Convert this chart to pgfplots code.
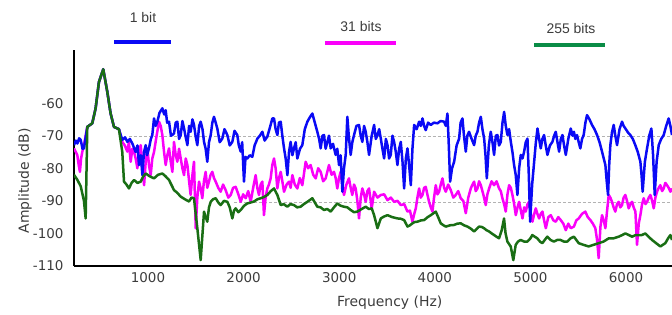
\documentclass[border=0pt]{standalone}
\usepackage{pgfplots}
\pgfplotsset{compat=1.18}
\usepackage{fontspec}
\setmainfont{Liberation Sans}
\newfontfamily\dejavu{DejaVu Sans}
\definecolor{txt}{RGB}{60,60,60}
\definecolor{cblue}{RGB}{10,10,245}
\definecolor{cmag}{RGB}{250,0,250}
\definecolor{cgreen}{RGB}{25,110,20}
\definecolor{lgreen}{RGB}{10,140,70}
\begin{document}
\begin{tikzpicture}[x=1bp,y=1bp]
\path[use as bounding box] (0,0) rectangle (672,314);
\begin{axis}[
  at={(74bp,48bp)}, anchor=south west,
  scale only axis, width=598bp, height=216bp,
  xmin=226, xmax=6481, ymin=-110, ymax=-43.7,
  axis x line*=bottom, axis y line*=left,
  axis line style={black, line width=1.3bp},
  xtick={1000,2000,3000,4000,5000,6000},
  ytick={-110,-100,-90,-80,-70,-60},
  major tick length=0pt,
  /pgf/number format/1000 sep={},
  /pgf/number format/assume math mode=true,
  tick label style={font=\dejavu\fontsize{13.5}{14}\selectfont, text=txt},
  yticklabel style={xshift=-7bp},
  xticklabel style={yshift=-3bp},
  xlabel={Frequency (Hz)}, ylabel={Amplitude (dB)},
  label style={font=\dejavu\fontsize{14}{15}\selectfont, text=txt},
  xlabel style={at={(axis description cs:0.528,-0.171)}, anchor=center},
  ylabel style={at={(axis description cs:-0.082,0.394)}, anchor=center},
  clip=true,
]
% faint dashed mean lines
\addplot[gray!60, densely dashed, line width=0.6bp] coordinates {(800,-70.2) (6481,-70.2)};
\addplot[gray!60, densely dashed, line width=0.6bp] coordinates {(1900,-90.3) (6481,-90.3)};
% 31 bits
\addplot[cmag, line width=2.5bp, line join=round] coordinates {
(226,-73.9) (245,-75) (261,-76) (275,-79) (288,-81.1) (300,-77) (313,-74.9) (330,-72.9) (365,-67.3) (417,-66.2) (452,-61.6) (487,-53.5) (532,-49.6) (574,-56.5) (609,-63.2) (644,-67.3) (696,-68)
(731,-71.9) (757,-73) (784,-74.9) (800,-72) (819,-78) (836,-74) (854,-75) (871,-77) (889,-80) (906,-75) (924,-72.9) (941,-79) (959,-85.2) (976,-78) (994,-73.9) (1010,-79) (1028,-82.1) (1045,-77) (1063,-75) (1090,-70) (1115,-65.7) (1133,-67) (1150,-69.8) (1168,-75) (1185,-79) (1202,-76) (1220,-73.9) (1238,-78) (1255,-81.1)
(1272,-71.9) (1290,-76) (1307,-78) (1325,-74) (1342,-77) (1360,-80) (1377,-82.1) (1395,-77) (1412,-79) (1430,-84) (1446,-88.2) (1465,-82) (1481,-78) (1490,-88) (1499,-98.4) (1516,-89) (1534,-84.1) (1550,-86) (1568,-89.2) (1585,-84) (1603,-81.1) (1620,-86) (1638,-84.1) (1655,-82) (1673,-81.1) (1690,-83) (1708,-84.1) (1735,-86) (1760,-87.2) (1785,-85) (1812,-86.7) (1840,-89) (1865,-88.2) (1890,-86) (1917,-85.7) (1945,-88) (1970,-90.3) (1995,-88) (2022,-89.2) (2048,-87) (2074,-90.3) (2100,-86) (2126,-82.1) (2143,-86) (2161,-88.2) (2178,-85) (2196,-84.1) (2213,-94.4) (2230,-89) (2248,-86.2) (2265,-85) (2283,-83.1) (2300,-79)
(2318,-77) (2335,-80) (2353,-86.2) (2370,-83) (2388,-81.1) (2405,-84) (2423,-87.2) (2450,-85) (2475,-84.1) (2492,-86) (2510,-82.1) (2535,-85) (2562,-86.2) (2588,-83) (2614,-85.2) (2630,-82) (2649,-78) (2675,-80) (2701,-79) (2728,-82) (2754,-83.1) (2780,-80) (2806,-81.1) (2832,-84) (2858,-83.1) (2876,-81) (2893,-79) (2920,-82) (2945,-81.1) (2963,-83) (2980,-86.2) (2998,-83) (3015,-81.1) (3033,-85) (3050,-88.2) (3075,-85) (3102,-83.1) (3120,-86) (3137,-88.2) (3155,-85) (3172,-86.2) (3190,-90) (3207,-95.4) (3225,-89) (3242,-86.2) (3260,-88) (3277,-90.3) (3295,-87) (3312,-86.2) (3340,-92.3)
(3365,-87.2) (3400,-89) (3435,-88.2) (3470,-88) (3505,-89.8) (3540,-89) (3574,-90.3) (3610,-90) (3644,-91.3) (3680,-91) (3714,-93.3) (3740,-93) (3766,-96.4) (3785,-94) (3801,-92.3) (3818,-89) (3836,-86.2) (3853,-89) (3871,-88.2) (3888,-86) (3905,-85.7) (3922,-88) (3940,-90.3) (3958,-92) (3975,-93.3) (3992,-89) (4010,-85.2) (4028,-88) (4045,-87.2) (4062,-85) (4080,-83.1) (4097,-86) (4115,-87.2) (4140,-85) (4167,-86.7) (4193,-89) (4219,-88.2) (4245,-87) (4271,-89.2) (4298,-90) (4324,-93.8) (4350,-89) (4376,-86.2) (4394,-85)
(4411,-84.1) (4428,-87) (4446,-86.2) (4463,-84) (4481,-85.2) (4507,-88) (4533,-91.3) (4550,-88) (4568,-86.2) (4594,-84) (4620,-85.2) (4646,-84) (4672,-86.2) (4690,-87) (4707,-89.2) (4725,-91) (4742,-93.3) (4760,-88) (4777,-85.2) (4795,-86) (4812,-88.2) (4830,-91) (4847,-94.4) (4865,-92) (4882,-90.3) (4900,-93) (4917,-95.4) (4935,-92) (4951,-93.3) (4970,-91) (4986,-90.3) (5004,-94) (5021,-96.4) (5040,-94) (5056,-92.3) (5073,-94) (5091,-95.4) (5108,-94) (5126,-93.3) (5143,-96) (5161,-98.4) (5187,-95) (5213,-94.4) (5240,-96) (5265,-96.4) (5291,-95) (5317,-95.9) (5344,-97) (5370,-99) (5396,-97) (5422,-98.4)
(5455,-97.9) (5480,-96) (5505,-95.4) (5540,-94) (5574,-93.3) (5600,-95) (5627,-95.9) (5653,-97) (5679,-98.4) (5697,-102) (5714,-107.6) (5732,-98) (5749,-94.4) (5767,-96) (5784,-98.4) (5802,-93) (5819,-88.2) (5836,-89) (5853,-90.3) (5870,-92) (5888,-93.3) (5906,-91) (5923,-90.3) (5940,-92) (5958,-91.3) (5975,-89) (5993,-88.2) (6010,-90) (6028,-92.3) (6045,-91) (6063,-90.3) (6080,-92) (6098,-93.3) (6115,-103.5) (6133,-97) (6150,-94.4) (6168,-91) (6185,-89.2) (6203,-91) (6220,-90.3) (6238,-89) (6255,-88.2) (6273,-90) (6290,-92.3) (6307,-89) (6324,-87.2) (6342,-86) (6359,-85.2) (6377,-87) (6394,-86.2) (6411,-84.5) (6429,-85.2) (6446,-86) (6464,-87.2) (6481,-86.2)
};
% 1 bit
\addplot[cblue, line width=2.5bp, line join=round] coordinates {
(226,-72.9) (245,-71.5) (261,-72.4) (280,-70.8) (296,-71.3) (315,-74) (330,-73.9) (365,-67.3) (417,-66.2) (452,-61.6) (487,-53.5) (532,-49.6) (574,-56.5) (609,-63.2) (644,-67.3) (696,-68)
(731,-71.3) (760,-70.5) (784,-71.9) (810,-71) (836,-72.4) (871,-75) (890,-73) (906,-79) (925,-76) (941,-82.1) (958,-75) (976,-72.9) (990,-76) (1010,-73.9) (1030,-71) (1045,-69.8) (1063,-64.7) (1080,-67) (1098,-65.7) (1120,-63) (1150,-61.6) (1170,-63.5) (1185,-62.2) (1200,-66) (1220,-65.7) (1240,-70) (1255,-69.8)
(1272,-69.3) (1290,-66) (1307,-65.7) (1325,-71) (1342,-69.8) (1360,-65.5) (1377,-67.8) (1395,-70.5) (1412,-72.9) (1430,-67) (1446,-68.8) (1465,-65) (1481,-66.7) (1500,-70.5) (1516,-72.9) (1535,-67) (1551,-65.7) (1570,-68) (1586,-71.9) (1603,-74) (1620,-78) (1638,-72) (1656,-69.8) (1673,-66) (1690,-64.2) (1708,-66) (1725,-67.8) (1750,-72) (1777,-70.9) (1800,-68) (1830,-69.8) (1855,-73) (1882,-71.9) (1905,-68.5) (1934,-69.8) (1950,-73) (1970,-74.9) (1985,-72) (2004,-84.1) (2020,-76.5) (2039,-77) (2065,-76) (2091,-76.5) (2115,-73) (2144,-70.9) (2170,-70) (2196,-68.8) (2220,-71.5) (2248,-70.3) (2275,-67.5) (2301,-64.7)
(2318,-64.7) (2335,-68) (2353,-69.8) (2370,-66) (2388,-65.7) (2405,-70) (2423,-73.9) (2440,-77) (2458,-82.1) (2475,-75) (2492,-71.9) (2510,-76) (2527,-73.9) (2545,-72) (2562,-77) (2590,-74) (2614,-72.9) (2640,-68) (2667,-65.7) (2690,-64.5) (2719,-63.2) (2745,-66) (2771,-68.8) (2790,-71) (2806,-73.9) (2825,-70) (2841,-69.8) (2858,-74) (2876,-71.9) (2893,-70) (2911,-73.9) (2935,-72.5) (2963,-75.9) (2980,-74) (2998,-79) (3015,-76) (3033,-87.2) (3050,-80) (3068,-75.9) (3085,-64.2) (3100,-70) (3120,-75.9) (3137,-72) (3155,-69.8) (3180,-67) (3207,-66.7) (3225,-70) (3242,-71.9) (3260,-67) (3277,-68.8) (3295,-72) (3312,-75.9) (3340,-70)
(3365,-66.7) (3383,-71) (3400,-69.8) (3418,-68) (3435,-70.9) (3452,-74) (3470,-77) (3488,-71) (3505,-72.9) (3522,-77) (3539,-75.9) (3557,-70) (3574,-71.9) (3592,-75) (3609,-79) (3627,-74) (3644,-71.9) (3662,-78) (3679,-86.2) (3697,-77) (3714,-73.9) (3731,-79) (3749,-85.2) (3766,-74) (3784,-66.7) (3810,-68) (3836,-65.7) (3853,-67) (3871,-64.7) (3888,-67) (3905,-68.3) (3930,-66) (3958,-66.7) (3990,-66) (4028,-66.2) (4060,-65.5) (4097,-65.7) (4115,-67) (4132,-63.2) (4145,-72) (4160,-84.1) (4180,-80) (4202,-78) (4228,-73) (4254,-70.9) (4270,-66) (4289,-64.7) (4305,-70) (4324,-74.9) (4340,-70) (4358,-68.8) (4385,-71)
(4411,-72.9) (4428,-70) (4446,-68.8) (4463,-66) (4481,-64.2) (4498,-68) (4516,-70.9) (4530,-76) (4544,-83.1) (4565,-73) (4585,-68.8) (4603,-72) (4620,-75.9) (4638,-70) (4655,-69.8) (4672,-73) (4690,-71.9) (4708,-66) (4725,-62.7) (4742,-67) (4760,-69.8) (4777,-68) (4795,-71.9) (4812,-75) (4829,-79) (4846,-82) (4864,-88.2) (4882,-80) (4899,-75.9) (4917,-77) (4934,-74.9) (4951,-72) (4969,-70.9) (4983,-82) (4997,-96.4) (5018,-85) (5039,-78) (5057,-72) (5074,-67.8) (5091,-71) (5108,-73.9) (5125,-71) (5143,-69.8) (5160,-73) (5178,-75.9) (5204,-73) (5230,-71.9) (5248,-70) (5265,-68.8) (5283,-72) (5300,-74.9) (5318,-71) (5335,-69.8) (5352,-73) (5370,-75.9) (5396,-71) (5422,-67.8) (5440,-70)
(5455,-68.8) (5470,-71) (5487,-69.8) (5505,-72) (5522,-73.9) (5540,-71) (5557,-69.8) (5575,-66) (5592,-63.7) (5618,-65) (5644,-66.7) (5670,-68) (5697,-69.8) (5723,-72) (5749,-74.9) (5767,-77) (5784,-79) (5798,-84) (5812,-88.2) (5824,-79) (5836,-72.9) (5853,-69) (5871,-66.7) (5888,-70) (5906,-72.9) (5932,-68) (5958,-65.7) (5975,-67) (5993,-67.8) (6020,-69) (6045,-69.8) (6071,-71) (6097,-72.9) (6123,-75) (6150,-78) (6162,-82) (6174,-87.2) (6197,-78) (6220,-73.9) (6243,-70) (6265,-67.8) (6283,-76) (6300,-88.2) (6320,-78) (6342,-72.9) (6368,-71) (6394,-69.8) (6420,-67) (6446,-64.7) (6464,-67) (6481,-69.8)
};
% 255 bits
\addplot[cgreen, line width=2.5bp, line join=round] coordinates {
(226,-82) (260,-83.5) (296,-85.5) (330,-90) (348,-95.4) (365,-67.3) (417,-66.2) (452,-61.6) (487,-53.5) (532,-49.6) (574,-56.5) (609,-63.2) (644,-67.3) (696,-68) (731,-75) (749,-84.1) (775,-85) (801,-86.2) (828,-84.5) (854,-83.6) (890,-84.5) (924,-84.1) (950,-82.5) (976,-81.6) (1020,-82.5) (1063,-83.1) (1105,-82) (1150,-81.6) (1185,-82.5) (1220,-83.6)
(1272,-86.7) (1305,-87.5) (1342,-88.7) (1385,-89.5) (1429,-90.2) (1455,-89) (1481,-89.2) (1516,-98.4) (1551,-108.2) (1586,-93.3) (1603,-95) (1620,-96.4) (1638,-92) (1656,-90.3) (1680,-89.5) (1708,-89.2) (1735,-90.5) (1760,-91.3) (1795,-90) (1830,-90.3) (1855,-92) (1882,-95.4) (1900,-93) (1917,-92.3) (1945,-93.5) (1970,-92.8) (2005,-91.5) (2039,-90.8) (2075,-90.5) (2109,-90.2) (2145,-89.5) (2179,-89.2) (2215,-88.8) (2248,-88.2) (2285,-87) (2318,-86.2)
(2353,-88.2) (2388,-91.3) (2420,-91) (2457,-91.8) (2490,-91) (2527,-91.3) (2560,-92) (2597,-91.8) (2630,-91) (2667,-90.3) (2719,-89.2) (2745,-90.5) (2771,-91.8) (2805,-92) (2841,-92.8) (2875,-92.5) (2911,-93.3) (2945,-92) (2980,-90.8) (3015,-91.5) (3050,-91.8) (3085,-92) (3120,-92.8) (3155,-93.5) (3190,-93.3) (3235,-92.5) (3277,-91.8) (3310,-92.5) (3340,-92.3)
(3365,-94.4) (3400,-98.4) (3435,-95.4) (3470,-94.8) (3505,-94.4) (3555,-95) (3609,-95.4) (3645,-95.5) (3679,-95.9) (3714,-97.9) (3740,-97.5) (3766,-96.9) (3790,-96.5) (3818,-96.4) (3855,-96) (3888,-95.9) (3925,-95) (3958,-94.4) (4010,-93.3) (4035,-95) (4062,-96.9) (4090,-97.5) (4115,-97.9) (4160,-97.5) (4202,-97.4) (4235,-97) (4271,-96.9) (4305,-97.5) (4341,-97.9) (4375,-98.5) (4411,-99.4)
(4463,-97.9) (4490,-98) (4515,-98.4) (4540,-99) (4567,-99.4) (4595,-100) (4620,-100.5) (4645,-101) (4672,-101.5) (4700,-99) (4724,-95.4) (4740,-100) (4759,-102.5) (4794,-104) (4821,-108.2) (4846,-103.5) (4870,-102.5) (4898,-102) (4935,-102.5) (4968,-102.5) (5000,-101.5) (5020,-100.5) (5045,-101) (5072,-101.5) (5100,-102.5) (5124,-103) (5150,-102) (5176,-101) (5210,-102) (5246,-102.5) (5280,-102) (5315,-102) (5350,-102.5) (5385,-102.5) (5420,-101.5) (5455,-101)
(5480,-102) (5505,-103) (5555,-103.5) (5609,-104) (5660,-103.5) (5714,-103) (5765,-102.5) (5819,-101.5) (5870,-101.5) (5923,-101) (5960,-100.5) (5993,-100) (6030,-100.5) (6063,-101) (6100,-100.5) (6132,-100.5) (6165,-100.5) (6202,-100) (6235,-101) (6272,-102) (6315,-103) (6359,-104) (6385,-103.5) (6411,-103) (6440,-101.5) (6464,-100.5) (6481,-102)
};
\end{axis}
% legend
\draw[cblue, line width=4bp] (114,272) -- (171,272);
\draw[cmag, line width=4bp] (325,271) -- (396,271);
\draw[lgreen, line width=4bp] (534,269) -- (605,269);
\node[text=txt, font=\fontsize{14}{15}\selectfont] at (143,296) {1 bit};
\node[text=txt, font=\fontsize{14}{15}\selectfont] at (361,287) {31 bits};
\node[text=txt, font=\fontsize{14}{15}\selectfont] at (571,285) {255 bits};
\end{tikzpicture}
\end{document}
